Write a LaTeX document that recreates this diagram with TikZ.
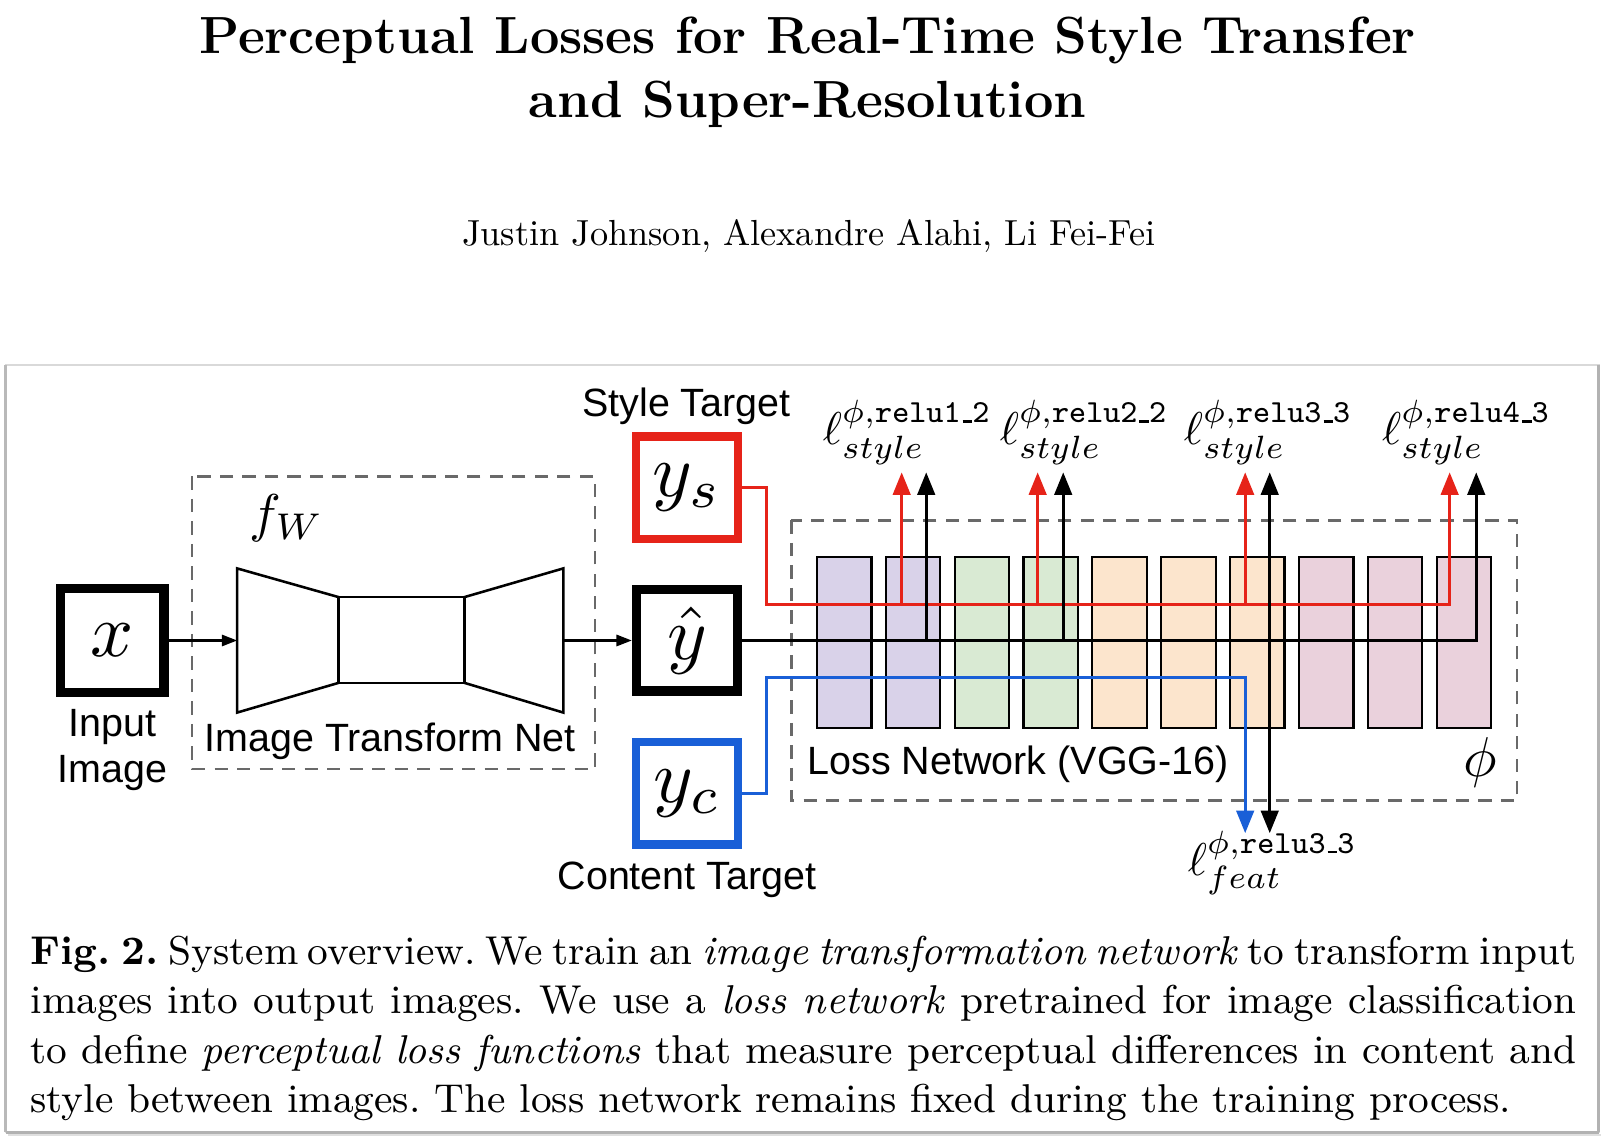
\RequirePackage{fix-cm}
\documentclass[tikz,border=0pt]{standalone}
\usepackage{amsmath}
\usepackage{graphicx}
\usepackage{fontspec}
\newfontfamily\arialf{Liberation Sans}
\usetikzlibrary{arrows.meta}
\definecolor{cred}{RGB}{230,35,25}
\definecolor{cblue}{RGB}{25,95,215}
\definecolor{cpurple}{HTML}{D9D2E9}
\definecolor{cgreen}{HTML}{D9EAD3}
\definecolor{corange}{HTML}{FCE5CD}
\definecolor{cpink}{HTML}{EAD1DC}
\definecolor{dashgray}{RGB}{105,105,105}
\newlength\fitw
\newcommand\us{\leavevmode\kern.06em\vbox{\hrule height .07em width .3em}}
\begin{document}%
\settowidth\fitw{\fontsize{14.4}{17}\bfseries\selectfont Perceptual Losses for Real-Time Style Transfer}%
\pgfmathsetmacro\tk{1190/\fitw}%
\settowidth\fitw{\fontsize{10}{12}\selectfont Justin Johnson, Alexandre Alahi, Li Fei-Fei}%
\pgfmathsetmacro\ak{678/\fitw}%
\settowidth\fitw{\fontsize{9}{11}\selectfont\frenchspacing style between images. The loss network remains fixed during the training process.}%
\pgfmathsetmacro\ck{1448/\fitw}%
\pgfmathsetmacro\cw{1512/\ck}%
\begin{tikzpicture}[x=1pt,y=-1pt,
  txt/.style={inner sep=0pt, outer sep=0pt},
  sanslab/.style={txt, font=\arialf\fontsize{38.6}{40}\selectfont},
  tgtbox/.style={draw=#1, fill=white, inner sep=0pt, font=\fontsize{10}{12}\selectfont},
  lossl/.style={txt, anchor=base west, font=\fontsize{10}{12}\selectfont},
  capl/.style={txt, anchor=base west, font=\fontsize{9}{11}\selectfont\frenchspacing},
  vgg/.style={draw=black, line width=2.2pt, minimum width=53.3pt, minimum height=166.8pt, inner sep=0pt},
  dashbox/.style={draw=dashgray, line width=2.5pt, dash pattern=on 13pt off 9pt},
  netl/.style={draw=black, line width=2.5pt, line join=miter},
  bigtip/.style={-{Triangle[width=17pt,length=22pt]}},
  smalltip/.style={-{Triangle[width=11pt,length=15pt]}},
  redl/.style={draw=cred, line width=3pt},
  blkl/.style={draw=black, line width=3pt},
  blul/.style={draw=cblue, line width=3pt}]
\useasboundingbox (0,0) rectangle (1568,1116);
\fill[white] (0,0) rectangle (1568,1116);

% ---------- title and authors ----------
\node[txt, anchor=base] (title1) at (790,52) {\scalebox{\tk}{\fontsize{14.4}{17}\bfseries\selectfont Perceptual Losses for Real-Time Style Transfer}};
\node[txt, anchor=base] (title2) at (790,115) {\scalebox{\tk}{\fontsize{14.4}{17}\bfseries\selectfont and Super-Resolution}};
\node[txt, anchor=base] (authors) at (791,240) {\scalebox{\ak}{\fontsize{10}{12}\selectfont Justin Johnson, Alexandre Alahi, Li Fei-Fei}};

% ---------- figure frame ----------
\draw[gray!30, line width=2pt] (6,357) rectangle (1564,1107);
\draw[gray!55, line width=3pt] (5.5,357) -- (5.5,1107);
\draw[gray!60, line width=3pt] (1564,357) -- (1564,1107);
\draw[gray!60, line width=3pt] (6,1107.5) -- (1564,1107.5);
\draw[gray!25, line width=2pt] (8,1110.5) -- (1566,1110.5);

% ---------- dashed groups ----------
\draw[dashbox] (188,466) rectangle (582,752);
\draw[dashbox] (774,509) rectangle (1484,783);

% ---------- image transform net ----------
\draw[netl] (232,556) -- (331,584) -- (331,668) -- (232,697) -- cycle;
\draw[netl] (331,584) rectangle (454.5,668);
\draw[netl] (454.5,584) -- (551,556) -- (551,697) -- (454.5,668) -- cycle;
\coordinate (netin) at (232,626.5);
\coordinate (netout) at (551,626.5);
\node[txt, anchor=base west, font=\fontsize{10}{12}\selectfont] (fw) at (244,520) {\scalebox{5.2}{$f_W$}};
\node[sanslab, anchor=base west] (itn) at (200,735) {Image Transform Net};

% ---------- VGG blocks ----------
\foreach \i/\c in {1/cpurple,2/cpurple,3/cgreen,4/cgreen,5/corange,6/corange,7/corange,8/cpink,9/cpink,10/cpink}{
  \node[vgg, fill=\c] (b\i) at ({825.75+67.35*(\i-1)},628.5) {};
}
\node[sanslab, anchor=base west] (lossnet) at (790,758) {Loss Network (VGG-16)};
\node[txt, anchor=base, font=\fontsize{10}{12}\selectfont] (phi) at (1448,760) {\scalebox{5.5}{$\phi$}};

% ---------- connector coordinates ----------
\coordinate (rj) at (750,591);
\coordinate (r1) at (882,591);  \coordinate (rt1) at (882,462);
\coordinate (r2) at (1015,591); \coordinate (rt2) at (1015,462);
\coordinate (r3) at (1218,591); \coordinate (rt3) at (1218,462);
\coordinate (r4) at (1418,591); \coordinate (rt4) at (1418,462);
\coordinate (k1) at (906,626.5);  \coordinate (kt1) at (906,462);
\coordinate (k2) at (1040,626.5); \coordinate (kt2) at (1040,462);
\coordinate (k3) at (1242,626.5); \coordinate (kt3) at (1242,462);
\coordinate (k4) at (1444,626.5); \coordinate (kt4) at (1444,462);
\coordinate (kb3) at (1242,815);
\coordinate (cj) at (750,663);
\coordinate (c3) at (1218,663);
\coordinate (cb3) at (1218,815);

% ---------- target / input boxes ----------
\node[tgtbox=black, line width=9pt, minimum size=101pt] (x) at (110,626.5) {\scalebox{7.4}{$x$}};
\node[tgtbox=cred, line width=8pt, minimum size=100pt] (ys) at (672,477) {\scalebox{7.4}{$y_s$}};
\node[tgtbox=black, line width=9pt, minimum size=99pt] (yh) at (672,626.5) {\scalebox{7.4}{$\hat{y}$}};
\node[tgtbox=cblue, line width=8pt, minimum size=100pt] (yc) at (672,776) {\scalebox{7.4}{$y_c$}};

% ---------- connectors ----------
\draw[black, line width=2.2pt, smalltip] (x.east) -- (netin);
\draw[black, line width=2.2pt, smalltip] (netout) -- (yh.west);

\draw[redl, bigtip, line join=miter] (ys.east) -| (rj) -- (r4) -- (rt4);
\foreach \i in {1,2,3}{\draw[redl, bigtip] (r\i) -- (rt\i);}
\draw[blkl, bigtip, line join=miter] (yh.east) -- (k4) -- (kt4);
\foreach \i in {1,2,3}{\draw[blkl, bigtip] (k\i) -- (kt\i);}
\draw[blkl, bigtip] (k3) -- (kb3);
\draw[blul, bigtip, line join=miter] (yc.east) -| (cj) -- (c3) -- (cb3);

% ---------- labels ----------
\node[sanslab, anchor=base] (styletxt) at (671.5,407.5) {Style Target};
\node[sanslab, anchor=base] (contenttxt) at (672,870) {Content Target};
\node[sanslab, anchor=base] (inp1) at (110,720.5) {Input};
\node[sanslab, anchor=base] (inp2) at (110,765.5) {Image};

\node[lossl] (ls1) at (805,435) {\scalebox{4.5}{$\ell^{\phi,\texttt{relu1\us 2}}_{style}$}};
\node[lossl] (ls2) at (978,435) {\scalebox{4.5}{$\ell^{\phi,\texttt{relu2\us 2}}_{style}$}};
\node[lossl] (ls3) at (1158,435) {\scalebox{4.5}{$\ell^{\phi,\texttt{relu3\us 3}}_{style}$}};
\node[lossl] (ls4) at (1352,435) {\scalebox{4.5}{$\ell^{\phi,\texttt{relu4\us 3}}_{style}$}};
\node[lossl] (lf) at (1162,856) {\scalebox{4.5}{$\ell^{\phi,\texttt{relu3\us 3}}_{feat}$}};

% ---------- caption ----------
\node[capl] (cap1) at (30,943) {\scalebox{\ck}{\makebox[\cw pt][s]{\textbf{Fig.~2.} System overview. We train an \textit{image transformation network} to transform input}}};
\node[capl] (cap2) at (30,991.5) {\scalebox{\ck}{\makebox[\cw pt][s]{images into output images. We use a \textit{loss network} pretrained for image classification}}};
\node[capl] (cap3) at (30,1040) {\scalebox{\ck}{\makebox[\cw pt][s]{to define \textit{perceptual loss functions} that measure perceptual differences in content and}}};
\node[capl] (cap4) at (30,1088) {\scalebox{\ck}{style between images. The loss network remains fixed during the training process.}};
\end{tikzpicture}
\end{document}
